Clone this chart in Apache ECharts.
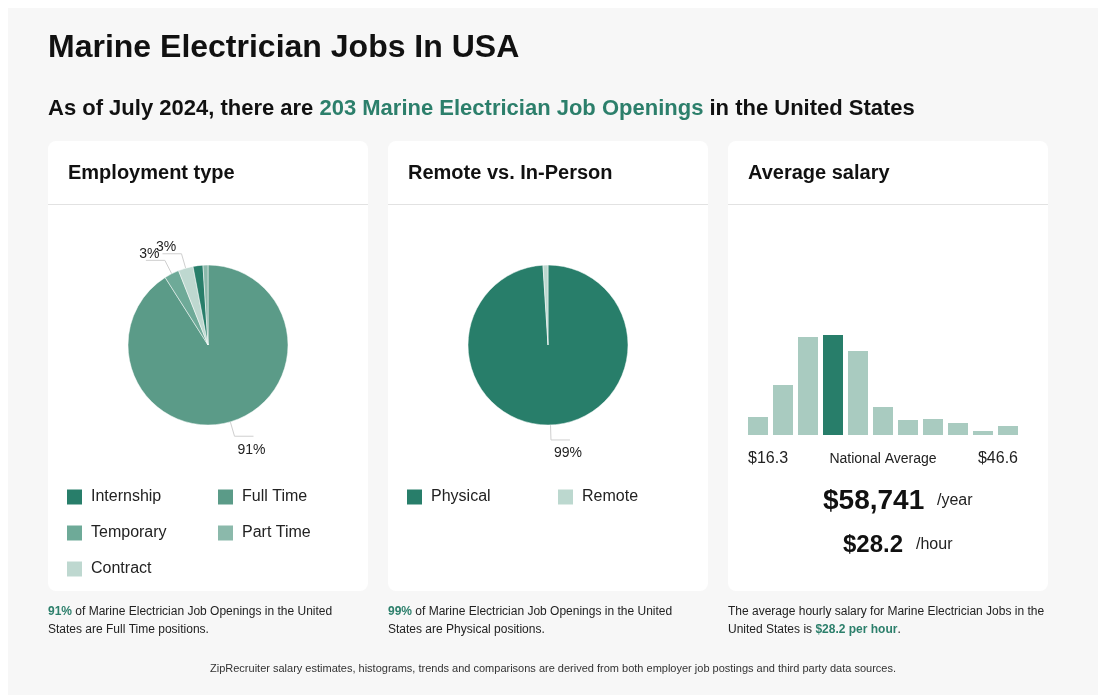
<!DOCTYPE html>
<html><head><meta charset="utf-8">
<script src="https://cdn.jsdelivr.net/npm/echarts@6/dist/echarts.min.js"></script>
<style>html,body{margin:0;padding:0;background:#fff;} #c{width:1110px;height:695px;}</style>
</head><body><div id="c"></div>
<script>
// ---- data ----
const employmentTypes = ['Full Time', 'Temporary', 'Contract', 'Internship', 'Part Time'];
const employmentShares = [91, 3, 3, 2, 1];
const employmentLegendLeft = ['Internship', 'Temporary', 'Contract'];
const employmentLegendRight = ['Full Time', 'Part Time'];
const workModes = ['Physical', 'Remote'];
const workModeShares = [99, 1];
const salaryBins = ['1', '2', '3', '4', '5', '6', '7', '8', '9', '10', '11'];
const salaryCounts = [18, 50, 98, 100, 84, 28, 15, 16, 12, 4, 9];
const nationalAverageBin = 3;
const salaryMinLabel = '$16.3';
const salaryMaxLabel = '$46.6';
const annualSalary = '$58,741';
const hourlySalary = '$28.2';

// ---- styles ----
const FONT = '"Liberation Sans", Arial, Helvetica, sans-serif';
const GREEN = '#2c7f6b';
const typeColors = {
  'Internship': '#287e6a', 'Full Time': '#5b9b88', 'Temporary': '#6eaa98',
  'Part Time': '#8bb9ab', 'Contract': '#bed8d0'
};
const modeColors = { 'Physical': '#287e6a', 'Remote': '#bcd8cf' };

function pieData(names, values, colors) {
  return names.map((n, i) => ({
    name: n, value: values[i],
    itemStyle: { color: colors[n] },
    label: { show: values[i] >= 3 },
    labelLine: { show: values[i] >= 3 }
  }));
}

function pieLabelLayout(params) {
  const pts = params.labelLinePoints;
  if (!pts) return {};
  const end = pts[pts.length - 1];
  const right = end[0] >= pts[1][0];
  const down = pts[1][1] >= pts[0][1];
  return {
    x: end[0] + (right ? -2 : 3.5),
    y: end[1] + (down ? 13.5 : -6.5),
    align: 'center', verticalAlign: 'middle',
    labelLinePoints: pts
  };
}

function pieSeries(center, names, values, colors) {
  return {
    type: 'pie', center: center, radius: 80, startAngle: 90, clockwise: true,
    avoidLabelOverlap: false,
    data: pieData(names, values, colors),
    label: { formatter: '{d}%', fontSize: 14, color: '#222', fontFamily: FONT },
    labelLine: { length: 15, length2: 19, smooth: false, lineStyle: { color: '#cfcfcf', width: 1 } },
    labelLayout: pieLabelLayout,
    itemStyle: { borderColor: '#ffffff', borderWidth: 0.5 },
    emphasis: { disabled: true }, silent: true
  };
}

function legend(names, left, top, orient) {
  return {
    data: names, left: left, top: top, orient: orient || 'vertical',
    itemWidth: 15, itemHeight: 15, itemGap: 20, padding: 0,
    icon: 'rect', selectedMode: false,
    itemStyle: { borderWidth: 0 },
    textStyle: { fontSize: 16, color: '#222', fontFamily: FONT, padding: [0, 0, 0, 4] }
  };
}

function txt(text, x, y, size, opts) {
  return Object.assign({
    type: 'text', z: 10,
    style: Object.assign({
      text: text, x: x, y: y, fontSize: size, fontFamily: FONT, fill: '#222',
      align: 'left', verticalAlign: 'middle'
    }, opts || {})
  });
}

const graphics = [];
graphics.push({ type: 'rect', z: 0, shape: { x: 8, y: 8, width: 1090, height: 700 }, style: { fill: '#f7f7f7' } });
const cardTitles = ['Employment type', 'Remote vs. In-Person', 'Average salary'];
cardTitles.forEach((t, i) => {
  const x = 48 + i * 340;
  graphics.push({ type: 'rect', z: 1, shape: { x: x, y: 141, width: 320, height: 450, r: 8 }, style: { fill: '#ffffff' } });
  graphics.push({ type: 'line', z: 2, shape: { x1: x, y1: 204.5, x2: x + 320, y2: 204.5 }, style: { stroke: '#e2e2e2', lineWidth: 1 } });
  graphics.push(txt(t, x + 20, 173.5, 20, { fontWeight: 'bold', fill: '#111' }));
});
graphics.push(txt('Marine Electrician Jobs In USA', 48, 48, 32, { fontWeight: 'bold', fill: '#111' }));
graphics.push(txt('{a|As of July 2024, there are }{b|203 Marine Electrician Job Openings}{a| in the United States}', 48, 109, 22, {
  fontWeight: 'bold',
  rich: {
    a: { fontSize: 22, fontWeight: 'bold', fontFamily: FONT, fill: '#111' },
    b: { fontSize: 22, fontWeight: 'bold', fontFamily: FONT, fill: GREEN }
  }
}));

const noteRich = {
  n: { fontSize: 12, fontFamily: FONT, fill: '#222' },
  g: { fontSize: 12, fontFamily: FONT, fill: GREEN, fontWeight: 'bold' }
};
graphics.push(txt('{g|91%}{n| of Marine Electrician Job Openings in the United}', 48, 611.5, 12, { rich: noteRich }));
graphics.push(txt('States are Full Time positions.', 48, 629.5, 12));
graphics.push(txt('{g|99%}{n| of Marine Electrician Job Openings in the United}', 388, 611.5, 12, { rich: noteRich }));
graphics.push(txt('States are Physical positions.', 388, 629.5, 12));
graphics.push(txt('The average hourly salary for Marine Electrician Jobs in the', 728, 611.5, 12));
graphics.push(txt('{n|United States is }{g|$28.2 per hour}{n|.}', 728, 629.5, 12, { rich: noteRich }));
graphics.push(txt('ZipRecruiter salary estimates, histograms, trends and comparisons are derived from both employer job postings and third party data sources.', 553, 668.5, 11, { align: 'center', fill: '#333' }));

graphics.push(txt(salaryMinLabel, 748, 459, 16));
graphics.push(txt('National Average', 883, 459.5, 14, { align: 'center' }));
graphics.push(txt(salaryMaxLabel, 1018, 459, 16, { align: 'right' }));
graphics.push(txt(annualSalary, 823, 501, 28, { fontWeight: 'bold', fill: '#111' }));
graphics.push(txt('/year', 937, 501, 16));
graphics.push(txt(hourlySalary, 843, 545, 24, { fontWeight: 'bold', fill: '#111' }));
graphics.push(txt('/hour', 916, 545, 16));

const chart = echarts.init(document.getElementById('c'), null, { renderer: 'canvas' });
chart.setOption({
  animation: false,
  textStyle: { fontFamily: FONT },
  graphic: { elements: graphics },
  legend: [
    legend(employmentLegendLeft, 67, 489),
    legend(employmentLegendRight, 218, 489),
    legend([workModes[0]], 407, 489),
    legend([workModes[1]], 558, 489)
  ],
  grid: { left: 745.5, top: 335, width: 275, height: 100, containLabel: false },
  xAxis: { type: 'category', data: salaryBins, show: false },
  yAxis: { type: 'value', min: 0, max: 100, show: false },
  series: [
    pieSeries([208, 345], employmentTypes, employmentShares, typeColors),
    pieSeries([548, 345], workModes, workModeShares, modeColors),
    {
      type: 'bar', barWidth: 20, silent: true, z: 5,
      data: salaryCounts.map((v, i) => ({
        value: v,
        itemStyle: { color: i === nationalAverageBin ? '#287e6a' : '#a9cbc0' }
      }))
    }
  ]
});
</script>
</body></html>
